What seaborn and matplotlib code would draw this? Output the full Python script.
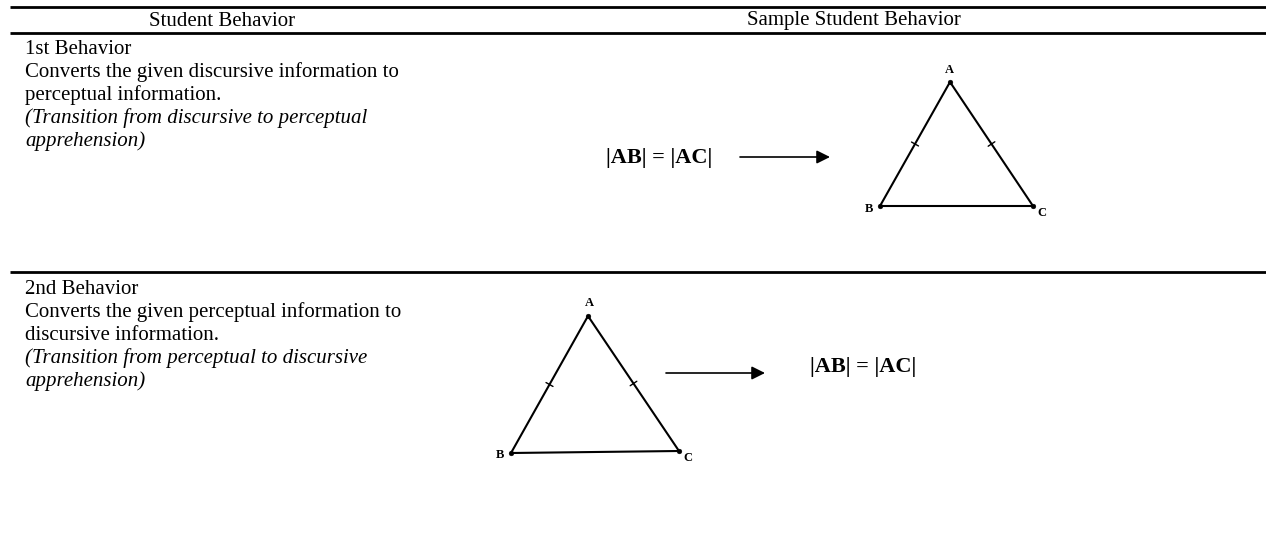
import numpy as np
import pandas as pd
import seaborn as sns
import matplotlib.pyplot as plt

# Table content
header_labels = ['Student Behavior', 'Sample Student Behavior']
behavior_titles = ['1st Behavior', '2nd Behavior']
behavior_lines = [
    ['Converts the given discursive information to', 'perceptual information.'],
    ['Converts the given perceptual information to', 'discursive information.'],
]
behavior_notes = [
    ['(Transition from discursive to perceptual', 'apprehension)'],
    ['(Transition from perceptual to discursive', 'apprehension)'],
]
formula = '|AB| = |AC|'

# Triangle vertices (A, B, C) in pixel space of the page
vertex_labels = ['A', 'B', 'C']
tri1_x = [950, 880, 1033]
tri1_y = [82, 206, 206]
tri2_x = [588, 511, 679]
tri2_y = [316, 453, 451]

W, H = 1266, 535
sns.set_style("white")
plt.rcParams['font.family'] = ['Liberation Serif', 'DejaVu Serif']
plt.rcParams['text.color'] = 'black'

fig = plt.figure(figsize=(W / 100, H / 100), dpi=100)
ax = fig.add_axes([0, 0, 1, 1])
ax.set_xlim(0, W)
ax.set_ylim(H, 0)
ax.axis('off')

# horizontal rules
for y in [7, 33, 272]:
    ax.plot([10, W], [y, y], color='black', lw=2, solid_capstyle='butt')

# header
ax.text(222, 21, header_labels[0], ha='center', va='center', fontsize=15)
ax.text(854, 21, header_labels[1], ha='center', va='center', fontsize=15)

# left column text
row_top = [54, 294]
step = 23
for i in range(2):
    y0 = row_top[i]
    ax.text(25, y0, behavior_titles[i], fontsize=15, va='baseline')
    for k, line in enumerate(behavior_lines[i]):
        ax.text(25, y0 + step * (k + 1), line, fontsize=15, va='baseline')
    for k, line in enumerate(behavior_notes[i]):
        ax.text(25, y0 + step * (k + 3), line, fontsize=15, va='baseline',
                style='italic')


def draw_triangle(xs, ys, label_offsets):
    df = pd.DataFrame({'x': xs + [xs[0]], 'y': ys + [ys[0]]})
    sns.lineplot(data=df, x='x', y='y', sort=False, color='black', lw=1.5,
                 ax=ax, estimator=None)
    sns.scatterplot(x=xs, y=ys, color='black', s=12, ax=ax, zorder=3,
                    edgecolor='black')
    for lab, x, y, (dx, dy) in zip(vertex_labels, xs, ys, label_offsets):
        ax.text(x + dx, y + dy, lab, fontsize=9, fontweight='bold',
                ha='center', va='center')
    # equal-side tick marks on AB and AC
    for j in [1, 2]:
        mx, my = (xs[0] + xs[j]) / 2, (ys[0] + ys[j]) / 2
        d = np.array([xs[j] - xs[0], ys[j] - ys[0]], dtype=float)
        n = np.array([-d[1], d[0]]) / np.hypot(*d) * 4
        ax.plot([mx - n[0], mx + n[0]], [my - n[1], my + n[1]],
                color='black', lw=1)


draw_triangle(tri1_x, tri1_y, [(-1, -12), (-11, 3), (9, 7)])
draw_triangle(tri2_x, tri2_y, [(1, -13), (-11, 2), (9, 7)])

# formulas and arrows
arrow_style = dict(arrowstyle='-|>', color='black', lw=1.2,
                   mutation_scale=20, shrinkA=0, shrinkB=0)
ax.text(659, 158, formula, fontsize=16, fontweight='bold', ha='center',
        va='center')
ax.annotate('', xy=(830, 157), xytext=(740, 157), arrowprops=arrow_style)
ax.annotate('', xy=(765, 373), xytext=(666, 373), arrowprops=arrow_style)
ax.text(863, 367, formula, fontsize=16, fontweight='bold', ha='center',
        va='center')

fig.savefig('out.png', dpi=100)
